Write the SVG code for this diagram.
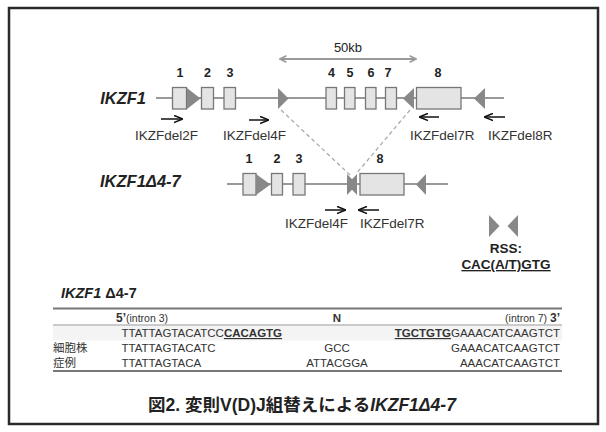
<svg xmlns="http://www.w3.org/2000/svg" width="606" height="432" viewBox="0 0 606 432">
<style>
text{font-family:"Liberation Sans",Arial,"Noto Sans CJK JP",sans-serif;fill:#222}
.gl{stroke:#777;stroke-width:1.3;fill:none}
.ex{fill:#e4e4e4;stroke:#777;stroke-width:1.3}
.rss{fill:#888}
.num{font-size:12.5px;font-weight:bold;text-anchor:middle}
.gene{font-size:16.5px;font-weight:bold;font-style:italic}
.pl{font-size:13.5px;fill:#333}
.pr{stroke:#111;stroke-width:1.5;fill:none}
.dash{stroke:#aaa;stroke-width:1.3;stroke-dasharray:4 3;fill:none}
.seq{font-size:11.5px;fill:#333}
.jp{font-family:"Noto Sans CJK JP",sans-serif;font-size:11.5px;fill:#333}
.b{font-weight:bold}
</style>
<defs>
<marker id="ah" viewBox="0 0 10 10" refX="9" refY="5" markerWidth="6" markerHeight="6" orient="auto"><path d="M0,1 L10,5 L0,9" fill="none" stroke="#111" stroke-width="1.8"/></marker>
<marker id="gh" viewBox="0 0 10 10" refX="9" refY="5" markerWidth="4" markerHeight="4" orient="auto-start-reverse"><path d="M1,1 L9,5 L1,9" fill="none" stroke="#999" stroke-width="2"/></marker>
</defs>
<rect x="9" y="8" width="589" height="416" fill="#fff" stroke="#2a2a2a" stroke-width="2.5"/>

<g id="scale">
<line x1="280" y1="59" x2="416" y2="59" stroke="#999" stroke-width="2" marker-start="url(#gh)" marker-end="url(#gh)"/>
<text x="348" y="52" font-size="13" text-anchor="middle">50kb</text>
</g>

<g id="connectors">
<line class="dash" x1="281" y1="110" x2="350" y2="175"/>
<line class="dash" x1="410" y1="110" x2="356" y2="174"/>
<line class="pr" x1="161" y1="119" x2="182" y2="119" marker-end="url(#ah)"/>
<line class="pr" x1="249" y1="120" x2="268" y2="120" marker-end="url(#ah)"/>
<line class="pr" x1="439" y1="117" x2="420" y2="117" marker-end="url(#ah)"/>
<line class="pr" x1="505" y1="117" x2="485" y2="117" marker-end="url(#ah)"/>
<line class="pr" x1="325" y1="210" x2="345" y2="210" marker-end="url(#ah)"/>
<line class="pr" x1="379" y1="210" x2="359" y2="210" marker-end="url(#ah)"/>
</g>

<g id="gene-wt">
<text class="gene" x="146" y="104" text-anchor="end">IKZF1</text>
<line class="gl" x1="156" y1="98" x2="504" y2="98"/>
<rect class="ex" x="172.5" y="87.5" width="14" height="21.5"/>
<rect class="ex" x="201.5" y="87.5" width="12" height="21.5"/>
<rect class="ex" x="224" y="87.5" width="11.5" height="21.5"/>
<rect class="ex" x="326" y="87.5" width="10.5" height="21.5"/>
<rect class="ex" x="344.5" y="87.5" width="10.5" height="21.5"/>
<rect class="ex" x="365.5" y="87.5" width="10.5" height="21.5"/>
<rect class="ex" x="385.5" y="87.5" width="11" height="21.5"/>
<rect class="ex" x="416.5" y="87.5" width="44.5" height="21.5"/>
<polygon class="rss" points="187,88 187,109 200.5,98.5"/>
<polygon class="rss" points="278,88 278,109 288.5,98.5"/>
<polygon class="rss" points="414,88 414,109 403,98.5"/>
<polygon class="rss" points="485,88 485,109 474,98.5"/>
<text class="num" x="180" y="77">1</text>
<text class="num" x="207.5" y="77">2</text>
<text class="num" x="230" y="77">3</text>
<text class="num" x="331.5" y="77">4</text>
<text class="num" x="350" y="77">5</text>
<text class="num" x="371" y="77">6</text>
<text class="num" x="388" y="77">7</text>
<text class="num" x="438" y="77">8</text>
<text class="pl" x="135" y="140">IKZFdel2F</text>
<text class="pl" x="223" y="140">IKZFdel4F</text>
<text class="pl" x="410" y="140">IKZFdel7R</text>
<text class="pl" x="488" y="140">IKZFdel8R</text>
</g>

<g id="gene-del">
<text class="gene" x="100" y="187">IKZF1Δ4-7</text>
<line class="gl" x1="227" y1="184" x2="448" y2="184"/>
<rect class="ex" x="243" y="173.5" width="13" height="21.5"/>
<rect class="ex" x="271.5" y="173.5" width="11" height="21.5"/>
<rect class="ex" x="293" y="173.5" width="12" height="21.5"/>
<rect class="ex" x="360" y="173.5" width="44" height="21.5"/>
<polygon class="rss" points="256,174 256,195 270.5,184.5"/>
<polygon class="rss" points="347,174 347,195 357,184.5"/>
<polygon class="rss" points="357,174 357,195 347,184.5"/>
<polygon class="rss" points="426,174 426,195 416,184.5"/>
<text class="num" x="249" y="163">1</text>
<text class="num" x="277" y="163">2</text>
<text class="num" x="299" y="163">3</text>
<text class="num" x="380" y="163">8</text>
<text class="pl" x="285" y="228">IKZFdel4F</text>
<text class="pl" x="360" y="228">IKZFdel7R</text>
</g>

<g id="legend">
<polygon class="rss" points="489,215 489,237 499.5,226"/>
<polygon class="rss" points="518,215 518,237 507.5,226"/>
<text x="506" y="253" font-size="13.5" font-weight="bold" text-anchor="middle">RSS:</text>
<text x="506" y="269" font-size="13.5" font-weight="bold" text-anchor="middle" text-decoration="underline">CAC(A/T)GTG</text>
</g>

<g id="table">
<text x="61" y="298" font-size="14.5" font-weight="bold" font-style="italic">IKZF1 <tspan font-style="normal">Δ4-7</tspan></text>
<rect x="53" y="325.5" width="509" height="15" fill="#f4f4f4"/>
<line x1="53" y1="308.5" x2="562" y2="308.5" stroke="#777" stroke-width="2"/>
<line x1="53" y1="325" x2="562" y2="325" stroke="#999" stroke-width="1"/>
<line x1="53" y1="371" x2="562" y2="371" stroke="#777" stroke-width="2"/>
<text class="seq" x="116" y="322"><tspan class="b" font-size="12">5’</tspan><tspan font-size="10.5">(intron 3)</tspan></text>
<text class="seq b" x="337" y="322" text-anchor="middle" font-size="12">N</text>
<text class="seq" x="560" y="322" text-anchor="end"><tspan font-size="10.5">(intron 7) </tspan><tspan class="b" font-size="12">3’</tspan></text>
<text class="seq" x="121.5" y="337">TTATTAGTACATCC<tspan class="b" text-decoration="underline">CACAGTG</tspan></text>
<text class="seq" x="560" y="337" text-anchor="end"><tspan class="b" text-decoration="underline">TGCTGTG</tspan>GAAACATCAAGTCT</text>
<text class="jp" x="53" y="352">細胞株</text>
<text class="seq" x="121.5" y="352">TTATTAGTACATC</text>
<text class="seq" x="337" y="352" text-anchor="middle">GCC</text>
<text class="seq" x="560" y="352" text-anchor="end">GAAACATCAAGTCT</text>
<text class="jp" x="53" y="367">症例</text>
<text class="seq" x="121.5" y="367">TTATTAGTACA</text>
<text class="seq" x="337" y="367" text-anchor="middle">ATTACGGA</text>
<text class="seq" x="560" y="367" text-anchor="end">AAACATCAAGTCT</text>
</g>

<g id="caption">
<text x="302" y="411" font-size="17.5" font-weight="bold" text-anchor="middle">図2. 変則V(D)J組替えによる<tspan font-style="italic">IKZF1Δ4-7</tspan></text>
</g>
</svg>
